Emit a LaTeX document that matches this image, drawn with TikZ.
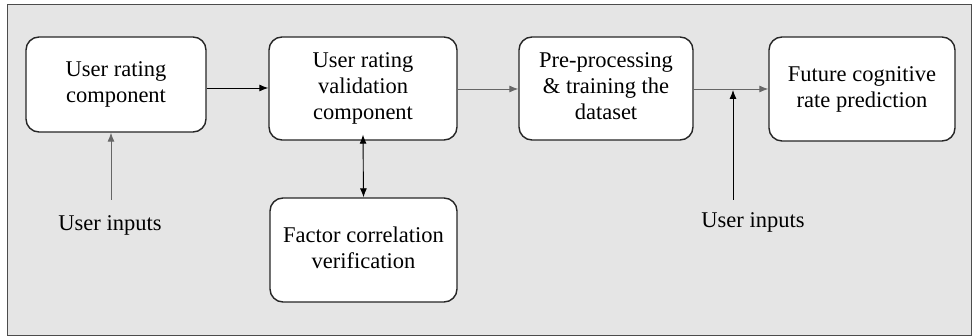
\documentclass[tikz,border=0pt]{standalone}
\usepackage{fontspec}
\setmainfont{Liberation Serif}
\newfontfamily\tms{Liberation Serif}
\usetikzlibrary{arrows.meta}
\begin{document}
\begin{tikzpicture}[x=1pt,y=-1pt,
  blk/.style={draw=black!85, line width=1.4pt, fill=white, rounded corners=13pt,
    align=center, font=\tms\fontsize{22.5}{26}\selectfont, inner sep=0pt},
  lbl/.style={font=\tms\fontsize{22.5}{26}\selectfont, inner sep=0pt},
  arr/.style={line width=0.9pt, -{Latex[length=9pt,width=7pt]}},
  darr/.style={line width=0.9pt, {Latex[length=9pt,width=7pt]}-{Latex[length=9pt,width=7pt]}}]
\useasboundingbox (0,0) rectangle (972,336);
\fill[white] (0,0) rectangle (972,336);
\draw[fill=black!10, draw=black!70, line width=0.8pt] (7,4) rectangle (971,335);

\node[blk, minimum width=180pt, minimum height=95pt] (b1) at (116,84.5) {\raisebox{-3pt}{\begin{tabular}{@{}c@{}}User rating\\component\end{tabular}}};
\node[blk, minimum width=188pt, minimum height=103pt] (b2) at (363,88.5) {\raisebox{-3pt}{\begin{tabular}{@{}c@{}}User rating\\validation\\component\end{tabular}}};
\node[blk, minimum width=187pt, minimum height=104pt] (b3) at (363.5,250) {\raisebox{-3pt}{\begin{tabular}{@{}c@{}}Factor correlation\\verification\end{tabular}}};
\node[blk, minimum width=174pt, minimum height=103pt] (b4) at (606,88.5) {\raisebox{-3pt}{\begin{tabular}{@{}c@{}}Pre-processing\\\&\ training the\\dataset\end{tabular}}};
\node[blk, minimum width=186pt, minimum height=104pt] (b5) at (862,89) {\raisebox{-3pt}{\begin{tabular}{@{}c@{}}Future cognitive\\rate prediction\end{tabular}}};

\node[lbl] (u1) at (110,225) {User inputs};
\node[lbl] (u2) at (753,222) {User inputs};
\coordinate (c1) at (111,200);
\coordinate (c2) at (733,200);
\coordinate (j) at (733,90);

\draw[arr, black] (b1.east |- 0,88) -- (b2.west |- 0,88);
\draw[arr, black!60] (b2.east |- 0,89) -- (b4.west |- 0,89);
\draw[arr, black!60] (b4.east |- 0,89) -- (b5.west |- 0,89);
\draw[arr, black!60] (c1) -- (c1 |- b1.south);
\draw[darr, black] ([yshift=6pt]b2.south) -- (b3.north);
\draw[arr, black] (c2) -- (j);
\end{tikzpicture}
\end{document}
